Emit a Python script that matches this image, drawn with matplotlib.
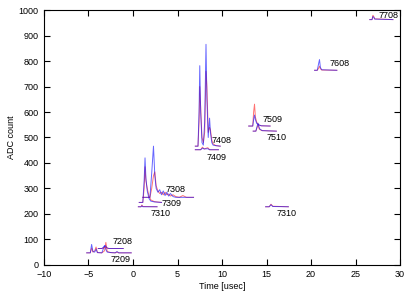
import matplotlib
matplotlib.use("Agg")
import matplotlib.pyplot as plt

plt.rcParams['font.family'] = ['Liberation Sans', 'DejaVu Sans']

# waveforms per channel: times [usec], red run, blue run (ADC counts)
t_7209 = [-5.2, -4.8, -4.65, -4.5, -4.3, -4.15, -4.0, -3.5, -3.2, -3.05, -2.9, -2.5, -2.0, -1.8, -1.6, -0.2]
r_7209 = [47, 47, 65, 50, 55, 70, 48, 47, 55, 88, 52, 48, 47, 50, 47, 47]
b_7209 = [47, 47, 80, 52, 50, 62, 48, 47, 76, 60, 50, 48, 47, 52, 47, 47]

t_7208 = [-3.9, -3.5, -3.3, -3.1, -2.9, -2.7, -1.1]
r_7208 = [64, 64, 66, 70, 66, 64, 64]
b_7208 = [64, 64, 70, 75, 66, 64, 64]

t_7310a = [0.6, 0.9, 1.0, 1.1, 2.7]
r_7310a = [228, 228, 235, 229, 228]
b_7310a = [228, 228, 232, 228, 228]

t_7309 = [0.7, 1.1, 1.25, 1.35, 1.45, 1.6, 1.8, 2.0, 2.4, 3.2]
r_7309 = [245, 245, 300, 385, 330, 300, 270, 255, 248, 245]
b_7309 = [245, 245, 330, 420, 340, 290, 260, 250, 247, 245]

t_7308 = [1.1, 1.9, 2.1, 2.3, 2.45, 2.6, 2.8, 3.0, 3.2, 3.4, 3.6, 3.8, 4.0, 4.2, 4.5, 4.8, 5.2, 5.6, 6.0, 6.8]
r_7308 = [265, 265, 300, 350, 365, 310, 290, 280, 285, 275, 285, 275, 278, 270, 275, 268, 265, 272, 265, 265]
b_7308 = [265, 265, 360, 466, 350, 300, 285, 295, 275, 290, 272, 285, 270, 280, 268, 265, 265, 265, 265, 265]

t_7409 = [7.0, 7.6, 7.8, 8.0, 8.4, 8.6, 9.6]
r_7409 = [452, 452, 462, 455, 460, 452, 452]
b_7409 = [452, 452, 458, 455, 456, 452, 452]

t_7408 = [7.0, 7.3, 7.42, 7.5, 7.6, 7.75, 7.9, 8.05, 8.2, 8.3, 8.45, 8.6, 8.7, 8.85, 9.0, 9.3, 9.8]
r_7408 = [466, 466, 560, 700, 620, 500, 480, 520, 760, 700, 520, 540, 530, 490, 475, 468, 466]
b_7408 = [466, 466, 600, 782, 600, 480, 470, 560, 866, 650, 500, 576, 520, 480, 470, 468, 466]

t_7509 = [13.0, 13.45, 13.55, 13.65, 13.75, 13.9, 14.1, 14.4, 15.4]
r_7509 = [545, 545, 600, 631, 580, 560, 550, 546, 545]
b_7509 = [545, 545, 570, 588, 570, 555, 550, 546, 545]

t_7510 = [13.5, 13.8, 13.95, 14.05, 14.2, 14.5, 16.1]
r_7510 = [525, 525, 540, 550, 532, 527, 525]
b_7510 = [525, 525, 545, 556, 535, 527, 525]

t_7310b = [14.9, 15.3, 15.5, 15.7, 17.45]
r_7310b = [228, 228, 238, 230, 228]
b_7310b = [228, 228, 236, 229, 228]

t_7608 = [20.4, 20.7, 20.85, 20.95, 21.05, 21.2, 22.9]
r_7608 = [764, 764, 772, 780, 770, 765, 764]
b_7608 = [764, 764, 790, 806, 775, 766, 764]

t_7708 = [26.6, 26.85, 26.95, 27.05, 27.15, 29.2]
r_7708 = [963, 963, 980, 975, 966, 963]
b_7708 = [963, 963, 975, 972, 965, 963]

traces = [
    (t_7209, r_7209, b_7209), (t_7208, r_7208, b_7208),
    (t_7310a, r_7310a, b_7310a), (t_7309, r_7309, b_7309), (t_7308, r_7308, b_7308),
    (t_7409, r_7409, b_7409), (t_7408, r_7408, b_7408),
    (t_7509, r_7509, b_7509), (t_7510, r_7510, b_7510), (t_7310b, r_7310b, b_7310b),
    (t_7608, r_7608, b_7608), (t_7708, r_7708, b_7708),
]

# channel labels: text, time, ADC
lab_txt = ['7208', '7209', '7308', '7309', '7310', '7408', '7409', '7509', '7510', '7310', '7608', '7708']
lab_x = [-2.3, -2.5, 3.6, 3.2, 2.0, 8.8, 8.3, 14.6, 15.0, 16.1, 22.1, 27.6]
lab_y = [92, 21, 297, 241, 202, 490, 422, 571, 501, 202, 789, 979]

fs = 6.5
fig = plt.figure(figsize=(4.15, 2.91), dpi=100)
ax = fig.add_axes([0.106, 0.09, 0.858, 0.875])

for t, r, b in traces:
    ax.plot(t, r, color='red', lw=0.7, alpha=0.55)
    ax.plot(t, b, color='blue', lw=0.7, alpha=0.6)

for s, x, y in zip(lab_txt, lab_x, lab_y):
    ax.text(x, y, s, fontsize=fs, va='center', ha='left')

ax.set_xlim(-10, 30)
ax.set_ylim(0, 1000)
ax.set_xticks(range(-10, 31, 5))
ax.set_yticks(range(0, 1001, 100))
ax.tick_params(direction='in', top=True, right=True, length=4, labelsize=fs, width=0.8, pad=4)
ax.set_xlabel('Time [usec]', fontsize=fs, labelpad=2)
ax.set_ylabel('ADC count', fontsize=fs, labelpad=2)

fig.savefig('out.png', dpi=100)
